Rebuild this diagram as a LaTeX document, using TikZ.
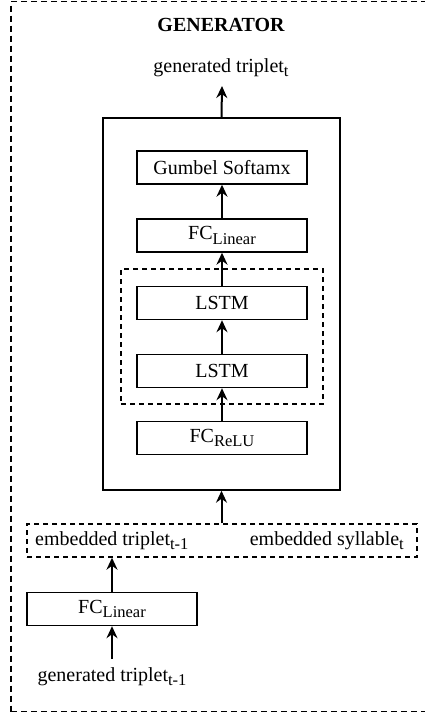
\documentclass[tikz,border=0pt]{standalone}
\usepackage{fontspec}
\setmainfont{Liberation Serif}
\usetikzlibrary{arrows.meta}
\newcommand{\mysub}[1]{\raisebox{-4.5pt}{\fontsize{16.5}{16.5}\selectfont #1}}
\begin{document}
\begin{tikzpicture}[x=1pt,y=-1pt,
  font=\fontsize{20}{24}\selectfont,
  blk/.style={draw, line width=1.4pt, minimum width=170pt, minimum height=33pt, inner sep=0pt},
  arr/.style={line width=2pt, -{Stealth[length=12pt,width=11pt,inset=4pt]}},
  outerdash/.style={draw, line width=1.8pt, dash pattern=on 6pt off 4pt},
  innerdash/.style={draw, line width=1.4pt, dash pattern=on 5pt off 4pt, inner sep=0pt}]
\useasboundingbox (0,0) rectangle (425,713);
\clip (0,0) rectangle (425,713);
% outer frame
\node[outerdash, minimum width=418pt, minimum height=710pt, inner sep=0pt] (frame) at (220,356.5) {};
% titles
\node[anchor=base, font=\fontsize{20}{24}\selectfont\bfseries] (title) at (221,31) {GENERATOR};
\node[anchor=base] (out) at (221,72) {generated triplet\mysub{t}};
% main box
\node[draw, line width=1.4pt, minimum width=237pt, minimum height=372pt, inner sep=0pt] (main) at (221.5,304) {};
% lstm group
\node[innerdash, minimum width=202pt, minimum height=135pt] (grp) at (222,336.5) {};
% blocks
\node[blk] (gumbel) at (222,167.5) {Gumbel Softamx};
\node[blk] (fclin) at (222,235.5) {FC\mysub{Linear}};
\node[blk] (lstma) at (222,303) {LSTM};
\node[blk] (lstmb) at (222,371) {LSTM};
\node[blk] (fcrelu) at (222,438) {FC\mysub{ReLU}};
% embedded inputs
\node[innerdash, minimum width=390pt, minimum height=33pt] (emb) at (222,540.5) {};
\node[anchor=base west, inner sep=0pt] (embtrip) at (35,545) {embedded triplet\mysub{t-1}};
\node[anchor=base east, inner sep=0pt] (embsyl) at (404,545) {embedded syllable\mysub{t}};
% lower branch
\node[blk] (fclin2) at (112,609) {FC\mysub{Linear}};
\node[anchor=base, inner sep=0pt] (inp) at (112,681) {generated triplet\mysub{t-1}};
\coordinate (inptop) at (112,659);
\coordinate (outbot) at (222,86);
% arrows
\draw[arr] (main.north) -- (outbot);
\draw[arr] (fclin.north) -- (gumbel.south);
\draw[arr] (lstma.north) -- (fclin.south);
\draw[arr] (lstmb.north) -- (lstma.south);
\draw[arr] (fcrelu.north) -- (lstmb.south);
\draw[arr] (emb.north -| main.north) -- (main.south);
\draw[arr] (fclin2.north) -- (emb.south -| fclin2.north);
\draw[arr] (inptop) -- (fclin2.south);
\end{tikzpicture}
\end{document}
